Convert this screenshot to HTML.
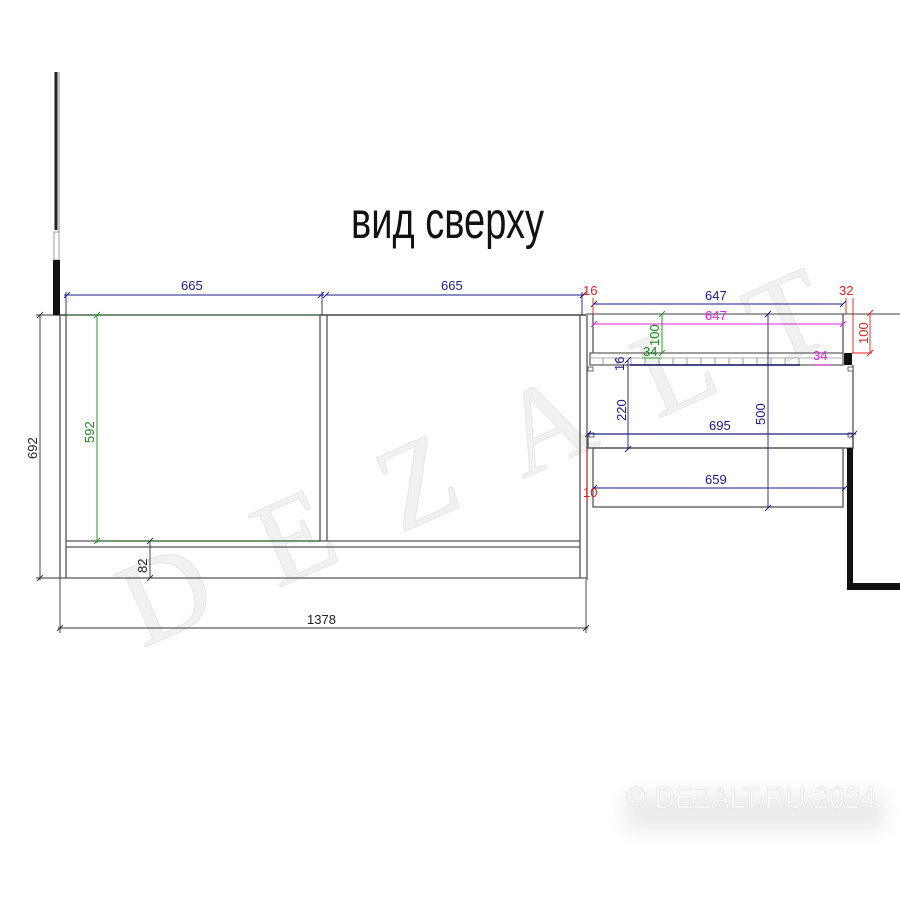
<!DOCTYPE html>
<html><head><meta charset="utf-8"><style>
html,body{margin:0;padding:0;background:#fff;width:900px;height:900px;overflow:hidden}
svg{display:block}
text{font-family:"Liberation Sans",sans-serif}
</style></head><body>
<svg width="900" height="900" viewBox="0 0 900 900" xmlns="http://www.w3.org/2000/svg">
<defs><filter id="b" x="-20%" y="-50%" width="140%" height="200%"><feGaussianBlur stdDeviation="9"/></filter></defs>
<!-- watermark -->
<g fill="#f1f1f1" stroke="#e6e6e6" stroke-width="1" transform="rotate(-24 450 380)">
<text x="60" y="500" style="font-family:'Liberation Serif',serif;font-size:120px" textLength="760" lengthAdjust="spacing">DEZALT</text>
</g>
<!-- copyright -->
<rect x="625" y="795" width="260" height="35" fill="#ebebeb" filter="url(#b)"/>
<text x="626" y="808" font-size="31" fill="#fbfbfb" stroke="#e2e2e2" stroke-width="0.6" textLength="250" lengthAdjust="spacingAndGlyphs">© DEZALT.RU 2024</text>
<!-- title -->
<text x="351" y="238" style="font-size:52px" fill="#111" textLength="193" lengthAdjust="spacingAndGlyphs">вид сверху</text>

<g stroke="#555" stroke-width="1.3" fill="none">
<line x1="56" y1="72" x2="56" y2="230" stroke="#222" stroke-width="3"/>
<line x1="59" y1="72" x2="59" y2="232" stroke="#888" stroke-width="1"/>
<rect x="54" y="232" width="5" height="28" stroke="#888" stroke-width="0.8"/>
<line x1="55" y1="315" x2="586" y2="315" stroke="#222"/>
<line x1="586" y1="314" x2="900" y2="314" stroke="#666"/>
<line x1="60" y1="315" x2="60" y2="578"/>
<line x1="66" y1="315" x2="66" y2="578"/>
<line x1="320" y1="315" x2="320" y2="541"/>
<line x1="327" y1="315" x2="327" y2="541"/>
<line x1="580" y1="315" x2="580" y2="578"/>
<line x1="587" y1="315" x2="587" y2="580"/>
<line x1="66" y1="541" x2="580" y2="541"/>
<line x1="66" y1="547" x2="580" y2="547"/>
<line x1="60" y1="578" x2="587" y2="578"/>
<g stroke="#333" stroke-width="0.9">
<line x1="40" y1="315" x2="40" y2="580"/><line x1="36" y1="315" x2="60" y2="315"/><line x1="36" y1="578" x2="60" y2="578"/>
<line x1="37" y1="318" x2="43" y2="312"/><line x1="37" y1="581" x2="43" y2="575"/>
<line x1="60" y1="578" x2="60" y2="633"/><line x1="586" y1="580" x2="586" y2="633"/>
<line x1="58" y1="628" x2="588" y2="628"/>
<line x1="57" y1="631" x2="63" y2="625"/><line x1="583" y1="631" x2="589" y2="625"/>
<line x1="150" y1="541" x2="150" y2="578"/>
<line x1="147" y1="544" x2="153" y2="538"/><line x1="147" y1="581" x2="153" y2="575"/>
</g>
<line x1="593" y1="314" x2="593" y2="353"/>
<line x1="843" y1="314" x2="843" y2="353"/>
<rect x="590" y="353" width="253" height="12" stroke="#666"/>
<line x1="590" y1="358" x2="843" y2="358" stroke="#999" stroke-width="0.8"/>
<line x1="853" y1="365" x2="853" y2="448"/>
<rect x="588" y="434" width="265" height="14"/>
<rect x="593" y="448" width="250" height="59"/>
</g>
<g stroke="#777" stroke-width="0.7">
<line x1="603" y1="358" x2="603" y2="365"/><line x1="617" y1="358" x2="617" y2="365"/><line x1="631" y1="358" x2="631" y2="365"/><line x1="645" y1="358" x2="645" y2="365"/><line x1="659" y1="358" x2="659" y2="365"/><line x1="673" y1="358" x2="673" y2="365"/><line x1="687" y1="358" x2="687" y2="365"/><line x1="701" y1="358" x2="701" y2="365"/><line x1="715" y1="358" x2="715" y2="365"/><line x1="729" y1="358" x2="729" y2="365"/><line x1="743" y1="358" x2="743" y2="365"/><line x1="757" y1="358" x2="757" y2="365"/><line x1="771" y1="358" x2="771" y2="365"/><line x1="785" y1="358" x2="785" y2="365"/><line x1="799" y1="358" x2="799" y2="365"/>
</g>
<line x1="630" y1="365" x2="800" y2="365" stroke="#1a1a6a" stroke-width="1.5"/>
<rect x="53" y="260" width="7" height="55" fill="#111"/>
<rect x="844" y="353" width="8" height="12" fill="#111"/>
<rect x="847" y="448" width="6" height="142" fill="#111"/>
<rect x="847" y="583" width="53" height="7" fill="#111"/>
<g fill="#fff" stroke="#444" stroke-width="0.8">
<rect x="588" y="367" width="5" height="4"/><rect x="848" y="367" width="5" height="4"/>
<rect x="589" y="433" width="5" height="4"/><rect x="848" y="433" width="5" height="4"/>
</g>
<g stroke="#1a1a8a" stroke-width="0.9" fill="none">
<line x1="64" y1="295" x2="324" y2="295"/><line x1="326" y1="295" x2="584" y2="295"/>
<line x1="64" y1="298" x2="70" y2="292"/><line x1="318" y1="298" x2="324" y2="292"/><line x1="323" y1="298" x2="329" y2="292"/><line x1="580" y1="298" x2="586" y2="292"/>
<line x1="66" y1="292" x2="66" y2="315"/><line x1="322" y1="292" x2="322" y2="315"/><line x1="582" y1="292" x2="582" y2="315"/>
<line x1="593" y1="304" x2="843" y2="304"/>
<line x1="591" y1="307" x2="597" y2="301"/><line x1="840" y1="307" x2="846" y2="301"/>
<line x1="768" y1="314" x2="768" y2="508"/>
<line x1="765" y1="317" x2="771" y2="311"/><line x1="765" y1="511" x2="771" y2="505"/>
<line x1="628" y1="360" x2="628" y2="450"/>
<line x1="625" y1="363" x2="631" y2="357"/><line x1="625" y1="452" x2="631" y2="446"/>
<line x1="588" y1="434" x2="856" y2="434"/>
<line x1="585" y1="437" x2="591" y2="431"/><line x1="851" y1="437" x2="857" y2="431"/>
<line x1="593" y1="488" x2="845" y2="488"/>
<line x1="591" y1="491" x2="597" y2="485"/><line x1="842" y1="491" x2="848" y2="485"/>
</g>
<g fill="#1a1a8a" font-size="13">
<text x="181" y="290">665</text><text x="441" y="290">665</text>
<text x="705" y="300">647</text>
<text x="709" y="430">695</text>
<text x="705" y="484">659</text>
<text transform="translate(765,425) rotate(-90)">500</text>
<text transform="translate(626,421) rotate(-90)">220</text>
<text transform="translate(624,371) rotate(-90)">16</text>
</g>
<g fill="#222" font-size="13">
<text x="307" y="624">1378</text>
<text transform="translate(37,459) rotate(-90)">692</text>
<text transform="translate(147,573) rotate(-90)">82</text>
</g>
<g stroke="#2a9a2a" stroke-width="1" fill="none">
<line x1="97" y1="315" x2="97" y2="543"/>
<line x1="66" y1="315" x2="320" y2="315" stroke="#2a6a2a" stroke-width="0.8"/>
<line x1="97" y1="541" x2="320" y2="541" stroke="#1a5a1a"/>
<line x1="94" y1="318" x2="100" y2="312"/><line x1="94" y1="544" x2="100" y2="538"/>
<line x1="662" y1="314" x2="662" y2="353"/>
<line x1="659" y1="317" x2="665" y2="311"/><line x1="659" y1="356" x2="665" y2="350"/>
<line x1="642" y1="358" x2="662" y2="358"/>
</g>
<g fill="#1a8a1a" font-size="13">
<text transform="translate(94,443) rotate(-90)">592</text>
<text transform="translate(659,346) rotate(-90)">100</text>
<text x="643" y="356">34</text>
</g>
<g stroke="#e020e0" stroke-width="0.9">
<line x1="593" y1="324" x2="843" y2="324"/>
<line x1="591" y1="327" x2="597" y2="321"/><line x1="840" y1="327" x2="846" y2="321"/>
<line x1="813" y1="365" x2="830" y2="365"/>
</g>
<g fill="#e020e0" font-size="13"><text x="705" y="320">647</text><text x="813" y="360">34</text></g>
<g stroke="#e02020" stroke-width="0.9" fill="none">
<line x1="593" y1="298" x2="593" y2="314"/><line x1="846" y1="298" x2="846" y2="314"/><line x1="853" y1="298" x2="853" y2="314"/>
<line x1="853" y1="314" x2="853" y2="353"/>
<line x1="870" y1="313" x2="870" y2="353"/><line x1="852" y1="353" x2="872" y2="353"/>
<line x1="867" y1="316" x2="873" y2="310"/><line x1="867" y1="356" x2="873" y2="350"/>
<line x1="587" y1="448" x2="587" y2="503"/>
</g>
<g fill="#e02020" font-size="13">
<text x="583" y="295">16</text><text x="839" y="295">32</text>
<text transform="translate(868,344) rotate(-90)">100</text>
<text x="583" y="497">10</text>
</g>
</svg>
</body></html>
